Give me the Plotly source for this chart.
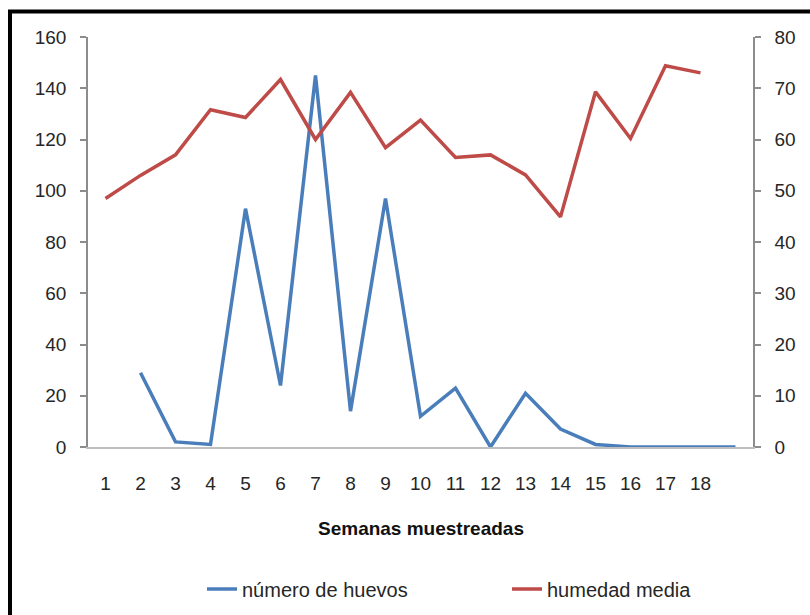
import plotly.graph_objects as go

semanas = list(range(1, 20))
tick_labels = [str(i) for i in range(1, 19)]
numero_huevos = [None, 29, 2, 1, 93, 24, 145, 14, 97, 12, 23, 0, 21, 7, 1, 0, 0, 0, 0]
humedad_media = [48.5, 53, 57, 65.8, 64.3, 71.7, 60, 69.2, 58.4, 63.8, 56.5, 57, 53.1, 44.9, 69.3, 60.2, 74.4, 73]

W, H = 810, 615
L, R, T, B = 88, 753, 37, 447
pw, ph = R - L, B - T

def px(x):
    return (x - L) / pw

def py(y):
    return (B - y) / ph

FONT = "Liberation Sans, Arial, sans-serif"
TXT = "#262626"

fig = go.Figure()
fig.add_trace(go.Scatter(
    x=semanas, y=numero_huevos, mode="lines", name="número de huevos",
    line=dict(color="#4A7EBB", width=3.5), connectgaps=False, yaxis="y",
    legend="legend"))
fig.add_trace(go.Scatter(
    x=semanas[:len(humedad_media)], y=humedad_media, mode="lines", name="humedad media",
    line=dict(color="#BE4B48", width=3.5), yaxis="y2", legend="legend2"))

leg_common = dict(orientation="h", xanchor="left", yanchor="middle", y=py(589),
                  font=dict(size=20, color=TXT), bgcolor="rgba(0,0,0,0)")

fig.update_layout(
    width=W, height=H,
    margin=dict(l=L, r=W - R, t=T, b=H - B, autoexpand=False),
    paper_bgcolor="white", plot_bgcolor="white",
    font=dict(family=FONT, size=19, color=TXT),
    xaxis=dict(range=[0.5, 19.5], tickmode="array", tickvals=list(range(1, 19)),
               ticktext=tick_labels, showgrid=False, zeroline=False,
               showline=True, linecolor="#BFBFBF", linewidth=1.5, ticks="",
               ticklabelstandoff=18, tickfont=dict(size=19, color=TXT)),
    yaxis=dict(range=[0, 160], dtick=20, showgrid=False, zeroline=False,
               showline=True, linecolor="#8C8C8C", linewidth=1.5,
               ticks="outside", ticklen=6, tickcolor="#8C8C8C", tickwidth=1.5,
               ticklabelstandoff=10, tickfont=dict(size=19, color=TXT)),
    yaxis2=dict(range=[0, 80], dtick=10, overlaying="y", side="right",
                showgrid=False, zeroline=False,
                showline=True, linecolor="#8C8C8C", linewidth=1.5,
                ticks="outside", ticklen=6, tickcolor="#8C8C8C", tickwidth=1.5,
                ticklabelstandoff=10, tickfont=dict(size=19, color=TXT)),
    legend=dict(x=px(202), **leg_common),
    legend2=dict(x=px(507), **leg_common),
    showlegend=True,
)

fig.add_annotation(text="<b>Semanas muestreadas</b>", xref="paper", yref="paper",
                   x=px(421), y=py(528), showarrow=False,
                   font=dict(size=19, color="#111111", family=FONT),
                   xanchor="center", yanchor="middle")

fig.add_shape(type="rect", xref="paper", yref="paper",
              x0=px(10), x1=px(840), y0=py(660), y1=py(11.5),
              line=dict(color="black", width=4), fillcolor="rgba(0,0,0,0)", layer="above")

fig.write_html("out.html", config={"displayModeBar": False},
               post_script="document.body.style.margin='0';document.body.style.padding='0';")
